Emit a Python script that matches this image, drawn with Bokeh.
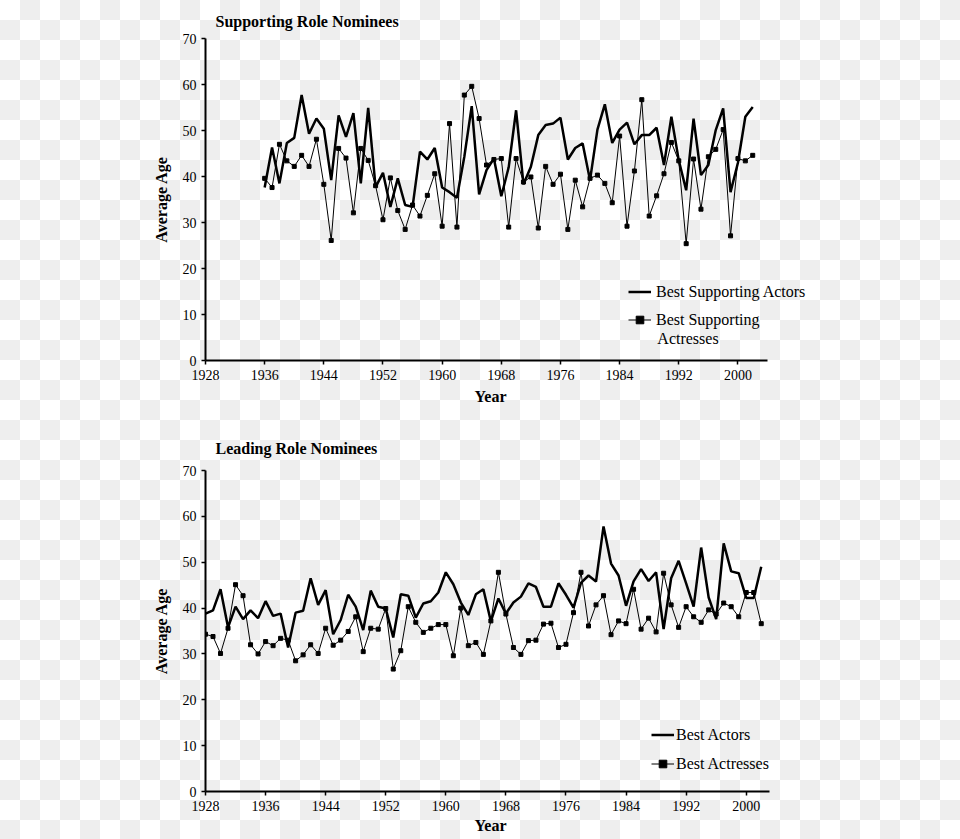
from bokeh.plotting import figure
from bokeh.models import Legend, LegendItem, FixedTicker, Range1d, Label, Title
from bokeh.layouts import column
from bokeh.embed import file_html
from bokeh.resources import INLINE

# ---------------- data ----------------
sup_years = list(range(1936, 2003))
sup_actors = [37.6, 46.3, 38.5, 47.3, 48.4, 57.7, 49.3, 52.6, 50.4, 39.2,
              53.3, 48.6, 53.8, 38.5, 54.9, 37.7, 40.8, 33.4, 39.6, 33.8,
              33.4, 45.4, 43.7, 46.2, 37.6, 36.6, 35.4, 44.3, 55.3, 36.1,
              41.4, 43.9, 35.7, 42.0, 54.4, 38.3, 42.1, 49.0, 51.2, 51.5,
              52.8, 43.7, 46.2, 47.2, 39.2, 50.2, 55.7, 47.3, 50.2, 51.7,
              47.0, 49.0, 49.0, 50.6, 42.5, 53.0, 43.5, 37.0, 52.6, 40.3,
              42.5, 50.1, 54.8, 36.6, 43.0, 53.0, 55.1]
sup_actresses = [39.6, 37.6, 47.0, 43.4, 42.2, 44.6, 42.2, 48.1, 38.3, 26.1,
                 46.1, 44.0, 32.1, 46.1, 43.5, 38.0, 30.6, 39.7, 32.6, 28.5,
                 33.8, 31.4, 35.9, 40.6, 29.2, 51.5, 29.0, 57.7, 59.6, 52.6,
                 42.5, 43.7, 43.9, 29.0, 43.9, 38.8, 39.9, 28.8, 42.2, 38.3,
                 40.5, 28.5, 39.2, 33.4, 39.6, 40.3, 38.5, 34.3, 48.8, 29.2,
                 41.2, 56.7, 31.4, 35.8, 40.6, 47.4, 43.4, 25.4, 43.8, 32.9,
                 44.3, 45.9, 50.2, 27.1, 43.9, 43.4, 44.6]

lead_years = list(range(1928, 2003))
lead_actors = [38.8, 39.5, 44.1, 35.8, 40.3, 37.6, 39.5, 37.8, 41.5, 38.3,
               38.8, 31.4, 39.0, 39.4, 46.5, 40.7, 43.9, 34.3, 37.4, 42.9,
               40.3, 35.2, 43.8, 40.3, 39.9, 33.6, 43.0, 42.7, 37.9, 41.0,
               41.5, 43.4, 47.8, 45.2, 41.2, 38.5, 43.0, 44.1, 37.1, 42.1,
               38.8, 41.2, 42.5, 45.4, 44.6, 40.3, 40.3, 45.4, 42.9, 40.1,
               45.5, 47.1, 45.8, 57.8, 49.7, 47.1, 40.5, 45.8, 48.5, 45.9,
               47.8, 35.4, 46.5, 50.3, 45.4, 40.3, 53.2, 42.3, 37.6, 54.1,
               48.0, 47.6, 42.2, 42.2, 49.0]
lead_actresses = [34.3, 33.8, 30.1, 35.6, 45.1, 42.7, 32.0, 30.0, 32.7, 31.8,
                  33.4, 33.0, 28.5, 29.8, 32.0, 30.1, 35.6, 31.9, 33.0, 34.9,
                  38.1, 30.5, 35.6, 35.4, 39.9, 26.7, 30.7, 40.3, 36.9, 34.7,
                  35.6, 36.4, 36.4, 29.6, 40.0, 31.8, 32.5, 29.9, 37.2, 47.8,
                  38.7, 31.4, 29.9, 32.9, 33.0, 36.5, 36.7, 31.4, 32.1, 39.0,
                  47.8, 36.1, 40.7, 42.7, 34.2, 37.2, 36.6, 44.1, 35.4, 37.8,
                  34.8, 47.6, 40.7, 35.8, 40.3, 38.1, 36.9, 39.6, 38.7, 41.1,
                  40.3, 38.1, 43.4, 43.4, 36.6]

x_ticks = [1928, 1936, 1944, 1952, 1960, 1968, 1976, 1984, 1992, 2000]
y_ticks = [0, 10, 20, 30, 40, 50, 60, 70]

SERIF = "Liberation Serif"
BIG = "16px"


def make_fig(height, x_axis_end, px_per_year, top_border, bottom_border, title,
             title_standoff, year_standoff):
    left, right = 205, 125
    frame_w = 960 - left - right
    x_end = 1928 + frame_w / px_per_year
    p = figure(width=960, height=height,
               x_range=Range1d(1928, x_end), y_range=Range1d(0, 70),
               output_backend="svg", toolbar_location=None,
               min_border_left=left, min_border_right=right,
               min_border_top=top_border, min_border_bottom=bottom_border,
               background_fill_color=None, border_fill_color=None,
               outline_line_color=None, title=title)
    p.title.text_font = SERIF
    p.title.text_font_style = "bold"
    p.title.text_font_size = BIG
    p.title.text_color = "black"
    p.title.align = "left"
    p.title.offset = 10
    p.title.standoff = title_standoff
    p.xgrid.visible = False
    p.ygrid.visible = False
    p.xaxis.ticker = FixedTicker(ticks=x_ticks)
    p.yaxis.ticker = FixedTicker(ticks=y_ticks)
    p.xaxis.bounds = (1928, x_axis_end)
    for ax in (p.xaxis, p.yaxis):
        ax.axis_line_width = 2
        ax.axis_line_color = "black"
        ax.major_tick_line_color = "black"
        ax.major_tick_line_width = 1.5
        ax.major_tick_out = 4
        ax.major_tick_in = 0
        ax.minor_tick_out = 0
        ax.minor_tick_in = 0
        ax.major_label_text_font = SERIF
        ax.major_label_text_font_size = "14px"
        ax.major_label_text_color = "black"
        ax.axis_label_text_font = SERIF
        ax.axis_label_text_font_style = "bold"
        ax.axis_label_text_font_size = BIG
        ax.axis_label_text_color = "black"
    p.yaxis.axis_label = "Average Age"
    p.xaxis.major_label_standoff = 5
    p.yaxis.major_label_standoff = 5
    p.yaxis.axis_label_standoff = 10
    # x-axis title, centred under the drawn axis (not the wider frame)
    p.add_layout(Title(text="Year", align="left", offset=269,
                       standoff=year_standoff, text_font=SERIF,
                       text_font_style="bold", text_font_size=BIG,
                       text_color="black"), "below")
    return p


def style_legend(leg):
    leg.border_line_color = None
    leg.background_fill_alpha = 0
    leg.padding = 0
    leg.margin = 0
    leg.label_text_font = SERIF
    leg.label_text_font_size = BIG
    leg.label_text_color = "black"
    leg.glyph_width = 23
    leg.glyph_height = 19
    leg.label_height = 19
    leg.label_standoff = 5


# ---------------- top: supporting ----------------
p1 = make_fig(420, 2004, 7.395, 38, 60, "Supporting Role Nominees", 17, 6)
r_sa = p1.line(sup_years, sup_actors, line_color="black", line_width=2.5)
r_se_l = p1.line(sup_years, sup_actresses, line_color="black", line_width=1)
r_se_m = p1.scatter(sup_years, sup_actresses, marker="square", size=4,
                    color="black")

legA = Legend(items=[LegendItem(label="Best Supporting Actors", renderers=[r_sa])],
              location=(423, 59))
legB = Legend(items=[LegendItem(label="Best Supporting", renderers=[r_se_l, r_se_m])],
              location=(423, 31))
for lg in (legA, legB):
    style_legend(lg)
    p1.add_layout(lg)
p1.add_layout(Label(x=1989.1, y=4.85, text="Actresses", text_font=SERIF,
                    text_font_size=BIG, text_color="black",
                    text_baseline="middle"))

# ---------------- bottom: leading ----------------
p2 = make_fig(419, 2003.1, 7.51, 50, 48, "Leading Role Nominees", 27, 3)
r_la = p2.line(lead_years, lead_actors, line_color="black", line_width=2.5)
r_le_l = p2.line(lead_years, lead_actresses, line_color="black", line_width=1)
r_le_m = p2.scatter(lead_years, lead_actresses, marker="square", size=4,
                    color="black")
legC = Legend(items=[LegendItem(label="Best Actors", renderers=[r_la]),
                     LegendItem(label="Best Actresses", renderers=[r_le_l, r_le_m])],
              location=(446, 18), spacing=10)
style_legend(legC)
legC.label_standoff = 2
p2.add_layout(legC)

layout = column(p1, p2, spacing=0)

# page background: the reference shows a light checkerboard behind the charts
TEMPLATE = """
{% block postamble %}
<style>
html, body {
  margin: 0; padding: 0;
  background-color: #ffffff;
  background-image: repeating-conic-gradient(#eeeeee 0% 25%, #ffffff 0% 50%);
  background-size: 40px 40px;
  background-position: 0 0;
}
</style>
{% endblock %}
"""

open("out.html", "w").write(file_html(layout, INLINE, title="Oscar nominee ages",
                                      template=TEMPLATE))
